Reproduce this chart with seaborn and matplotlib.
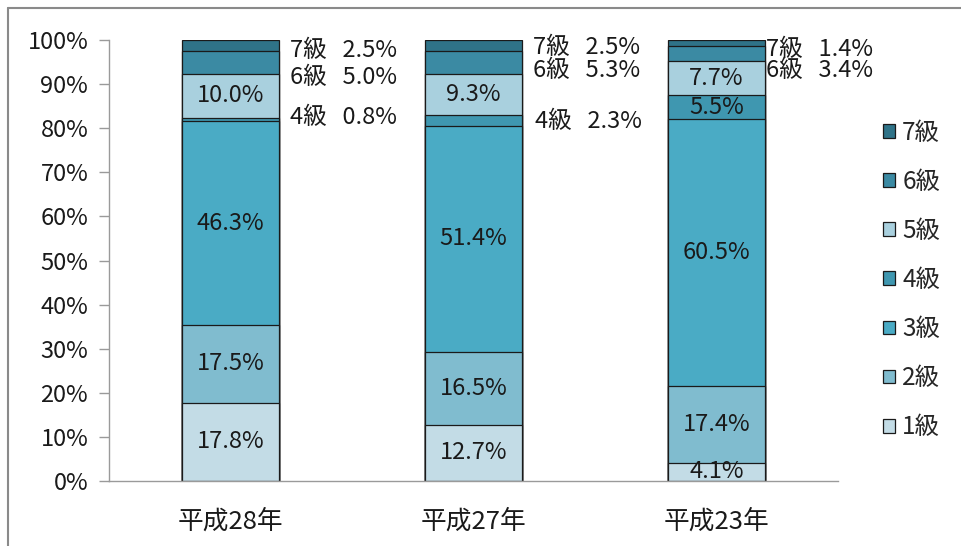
import matplotlib
matplotlib.use("Agg")
import matplotlib.pyplot as plt
from matplotlib.patches import Patch
from matplotlib.lines import Line2D
import seaborn as sns
import pandas as pd
import numpy as np

years = ["平成28年", "平成27年", "平成23年"]
grades = ["1級", "2級", "3級", "4級", "5級", "6級", "7級"]
g1 = [17.8, 12.7, 4.1]
g2 = [17.5, 16.5, 17.4]
g3 = [46.3, 51.4, 60.5]
g4 = [0.8, 2.3, 5.5]
g5 = [10.0, 9.3, 7.7]
g6 = [5.0, 5.3, 3.4]
g7 = [2.5, 2.5, 1.4]
yticklabels = ["0%", "10%", "20%", "30%", "40%", "50%", "60%", "70%", "80%", "90%", "100%"]

colors = ["#c3dce6", "#80bccf", "#4aabc5", "#3f97b0", "#a9d0de", "#3b8aa3", "#2f7388"]

sns.set_theme(style="white")
plt.rcParams['font.family'] = ['Noto Sans CJK JP', 'DejaVu Sans']

series = [g1, g2, g3, g4, g5, g6, g7]
vals = np.array(series)
cum = np.cumsum(vals, axis=0)

fig = plt.figure(figsize=(9.62, 5.46), dpi=100)
ax = fig.add_axes([109/962, 65/546, (838-109)/962, (481-40)/546])

for i in range(len(grades) - 1, -1, -1):
    df = pd.DataFrame({"year": years, "v": cum[i]})
    sns.barplot(data=df, x="year", y="v", order=years, color=colors[i],
                width=0.40, edgecolor="#1a1a1a", linewidth=0.9, saturation=1,
                ax=ax, errorbar=None)

ax.set_xlim(-0.5, 2.5)
ax.set_ylim(0, 100)
ax.set_yticks(np.arange(0, 101, 10))
ax.set_yticklabels(yticklabels, fontsize=17, color="#1a1a1a")
ax.set_xlabel("")
ax.set_ylabel("")
ax.tick_params(axis="x", which="major", length=0, pad=20, labelsize=18.5, labelcolor="#1a1a1a")
ax.set_xticks([-0.5, 0.5, 1.5, 2.5], minor=True)
ax.tick_params(axis="x", which="minor", length=7, color="#9a9a9a", width=1, direction="out")
ax.tick_params(axis="y", which="major", length=7, color="#9a9a9a", width=1, direction="out", pad=8, left=True)
for s in ["top", "right"]:
    ax.spines[s].set_visible(False)
for s in ["left", "bottom"]:
    ax.spines[s].set_color("#9a9a9a")
    ax.spines[s].set_linewidth(1)

# inside labels
inside = {0: [0, 1, 2, 4], 1: [0, 1, 2, 4], 2: [0, 1, 2, 3, 4]}
for j in range(3):
    for i in inside[j]:
        y = cum[i, j] - vals[i, j] / 2
        ax.text(j, y, f"{vals[i, j]:.1f}%", ha="center", va="center",
                fontsize=17, color="#1a1a1a")

# outside labels (grade, bar index, y position of label)
out_grades = [6, 5, 3, 6, 5, 3, 6, 5]
out_bars = [0, 0, 0, 1, 1, 1, 2, 2]
out_y = [97.7, 91.6, 82.4, 98.4, 93.0, 81.5, 97.9, 93.0]
out_dx = [0.245, 0.245, 0.245, 0.245, 0.245, 0.255, 0.205, 0.205]
for g, b, yy, dx in zip(out_grades, out_bars, out_y, out_dx):
    ax.text(b + dx, yy, f"{grades[g]}   {vals[g, b]:.1f}%", ha="left", va="center",
            fontsize=17, color="#1a1a1a")

handles = [Patch(facecolor=colors[i], edgecolor="#1a1a1a", linewidth=0.9)
           for i in range(len(grades) - 1, -1, -1)]
labels = [grades[i] for i in range(len(grades) - 1, -1, -1)]
fig.legend(handles, labels, loc="center left", bbox_to_anchor=(873/962, 1 - 280/546),
           frameon=False, fontsize=17.5, labelspacing=0.95, handlelength=0.5,
           handleheight=0.5, handletextpad=0.3, borderaxespad=0)

# chart frame (top and left border)
fig.add_artist(Line2D([8/962, 1], [1 - 8/546, 1 - 8/546], transform=fig.transFigure,
                      color="#8a8a8a", linewidth=1.5))
fig.add_artist(Line2D([8/962, 8/962], [0, 1 - 8/546], transform=fig.transFigure,
                      color="#8a8a8a", linewidth=1.5))

fig.savefig("out.png", dpi=100)
